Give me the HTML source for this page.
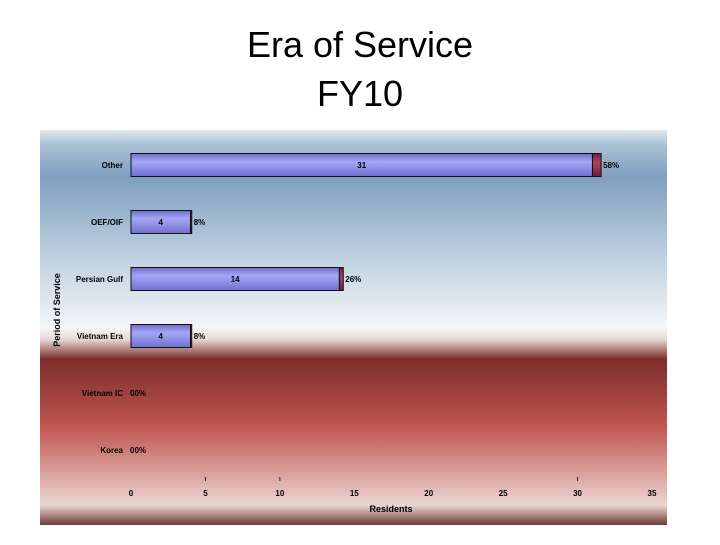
<!DOCTYPE html>
<html><head><meta charset="utf-8"><style>
body{margin:0;background:#fff;width:720px;height:540px;overflow:hidden;font-family:"Liberation Sans",sans-serif}
</style></head><body>
<svg width="720" height="540">
<defs>
<linearGradient id="bg" x1="0" y1="0" x2="0" y2="1">
<stop offset="0" stop-color="#dde8f0"/>
<stop offset="0.04" stop-color="#a9bfd4"/>
<stop offset="0.12" stop-color="#7f9fc0"/>
<stop offset="0.3" stop-color="#b8cbdc"/>
<stop offset="0.5" stop-color="#f4f6f8"/>
<stop offset="0.53" stop-color="#e8d8d6"/>
<stop offset="0.58" stop-color="#7c2e2a"/>
<stop offset="0.75" stop-color="#c05550"/>
<stop offset="0.88" stop-color="#dca8a4"/>
<stop offset="0.95" stop-color="#ead6d2"/>
<stop offset="1" stop-color="#6e3a34"/>
</linearGradient>
<linearGradient id="bar" x1="0" y1="0" x2="0" y2="1">
<stop offset="0" stop-color="#6d6dc4"/><stop offset="0.35" stop-color="#a6a6f8"/><stop offset="1" stop-color="#7070cc"/>
</linearGradient>
<linearGradient id="cap" x1="0" y1="0" x2="0" y2="1">
<stop offset="0" stop-color="#702040"/><stop offset="0.4" stop-color="#b04060"/><stop offset="1" stop-color="#6a2038"/>
</linearGradient>
</defs>
<text x="360" y="57" text-anchor="middle" font-size="36">Era of Service</text>
<text x="360" y="106" text-anchor="middle" font-size="36">FY10</text>
<rect x="40" y="130" width="627" height="395" fill="url(#bg)"/>
<text transform="translate(60,310) rotate(-90)" text-anchor="middle" font-size="9" font-weight="bold">Period of Service</text>
<text x="391" y="512" text-anchor="middle" font-size="9" font-weight="bold">Residents</text>
<g id="g"></g>
</svg>
<script>
const categories=["Other","OEF/OIF","Persian Gulf","Vietnam Era","Vietnam IC","Korea"];
const residents=[31,4,14,4,0,0];
const share=[0.58,0.08,0.26,0.08,0,0];
const pctLabels=["58%","8%","26%","8%","00%","00%"];
const ticks=[0,5,10,15,20,25,30,35];
const minorTicks=[5,10,30];
const x0=131,x1=652,xmax=35;
const xs=v=>x0+v*(x1-x0)/xmax;
const ys=i=>165+i*57;
const g=document.getElementById('g');
const NS='http://www.w3.org/2000/svg';
function mk(t,a,txt){const e=document.createElementNS(NS,t);for(const k in a)e.setAttribute(k,a[k]);if(txt!==undefined)e.textContent=txt;g.appendChild(e);return e;}
categories.forEach((c,i)=>{
  const y=ys(i);
  let e=mk('text',{x:123,y:y+3,'text-anchor':'end','font-size':8,'font-weight':'bold'},c);
  
  
  let end=xs(residents[i]+share[i]);
  if(residents[i]>0){
    e=mk('rect',{x:xs(0),y:y-11.5,width:xs(residents[i])-xs(0),height:23,fill:'url(#bar)',stroke:'#111','stroke-width':1});
    
    
    e=mk('rect',{x:xs(residents[i]),y:y-11.5,width:xs(residents[i]+share[i])-xs(residents[i]),height:23,fill:'url(#cap)',stroke:'#111','stroke-width':1});
    
    
    e=mk('text',{x:(xs(0)+xs(residents[i]))/2,y:y+3,'text-anchor':'middle','font-size':8,'font-weight':'bold'},String(residents[i]));
    
    
  } else end=xs(0)-3;
  e=mk('text',{x:end+2,y:y+3,'font-size':8,'font-weight':'bold'},pctLabels[i]);
  
  
});
ticks.forEach(t=>{
  const e=mk('text',{x:xs(t),y:496,'text-anchor':'middle','font-size':8,'font-weight':'bold'},String(t));
  
  
});
minorTicks.forEach(t=>{
  const e=mk('line',{x1:xs(t),x2:xs(t),y1:477,y2:481,stroke:'#222','stroke-width':1});
  
  
});
</script>
</body></html>
